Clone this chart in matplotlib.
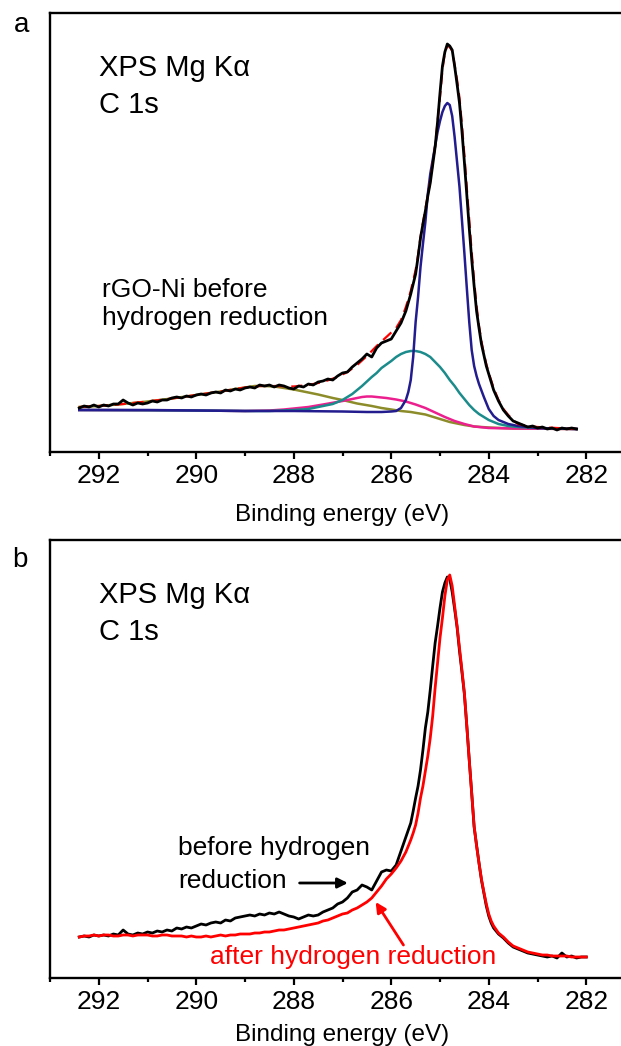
import matplotlib
matplotlib.use('Agg')
import matplotlib.pyplot as plt

plt.rcParams['font.family'] = ['Liberation Sans', 'DejaVu Sans']

# ---------------- data (binding energy in eV, intensity in arb. units) ----------------

# panel a: measured C 1s spectrum, rGO-Ni before hydrogen reduction
energy_a = [292.4, 292.3, 292.2, 292.1, 292.0, 291.9, 291.8, 291.7, 291.6, 291.5,
            291.4, 291.3, 291.2, 291.1, 291.0, 290.9, 290.8, 290.7, 290.6, 290.5,
            290.4, 290.3, 290.2, 290.1, 290.0, 289.9, 289.8, 289.7, 289.6, 289.5,
            289.4, 289.3, 289.2, 289.1, 289.0, 288.9, 288.8, 288.7, 288.6, 288.5,
            288.4, 288.3, 288.2, 288.1, 288.0, 287.9, 287.8, 287.7, 287.6, 287.5,
            287.4, 287.3, 287.2, 287.1, 287.0, 286.9, 286.8, 286.7, 286.6, 286.5,
            286.4, 286.3, 286.2, 286.1, 286.0, 285.9, 285.8, 285.7, 285.6, 285.55,
            285.5, 285.45, 285.4, 285.35, 285.3, 285.25, 285.2, 285.15, 285.1, 285.05,
            285.0, 284.95, 284.9, 284.85, 284.8, 284.75, 284.7, 284.65, 284.6, 284.55,
            284.5, 284.45, 284.4, 284.35, 284.3, 284.25, 284.2, 284.15, 284.1, 284.05,
            284.0, 283.95, 283.9, 283.8, 283.7, 283.6, 283.5, 283.4, 283.3, 283.2,
            283.1, 283.0, 282.9, 282.8, 282.7, 282.6, 282.5, 282.4, 282.3, 282.2]
counts_a = [44, 46, 45, 47, 45, 47, 46, 48, 48, 52,
            49, 47, 49, 48, 49, 51, 50, 52, 52, 54,
            55, 54, 56, 55, 57, 58, 57, 59, 60, 59,
            62, 61, 63, 62, 64, 65, 64, 67, 66, 67,
            65, 67, 66, 64, 63, 66, 65, 68, 67, 70,
            71, 73, 72, 76, 79, 80, 85, 89, 93, 98,
            95, 104, 109, 111, 113, 121, 129, 141, 158, 168,
            178, 195, 214, 228, 241, 256, 269, 287, 305, 330,
            359, 386, 400, 408, 406, 402, 386, 368, 349, 321,
            290, 257, 224, 193, 166, 141, 124, 108, 97, 86,
            78, 70, 62, 51, 42, 36, 31, 29, 27, 25,
            26, 24, 25, 23, 24, 22, 24, 23, 24, 23]

# panel a: fit envelope
env_energy = [292.4, 292.0, 291.5, 291.0, 290.5, 290.0, 289.5, 289.0, 288.7, 288.4,
              288.0, 287.7, 287.4, 287.1, 286.9, 286.7, 286.5, 286.3, 286.1, 285.9,
              285.8, 285.7, 285.6, 285.5, 285.45, 285.4, 285.3, 285.2, 285.1, 285.0,
              284.95, 284.9, 284.85, 284.8, 284.75, 284.7, 284.65, 284.6, 284.55, 284.5,
              284.45, 284.4, 284.35, 284.3, 284.25, 284.2, 284.15, 284.1, 284.05, 284.0,
              283.9, 283.8, 283.7, 283.6, 283.5, 283.4, 283.2, 283.0, 282.6, 282.2]
env_counts = [45, 46, 48, 50.5, 53.5, 57, 60.5, 64.5, 66, 66,
              65.5, 67, 70, 75, 80, 87, 96, 106, 115, 124,
              132, 145, 161, 182, 197, 215, 243, 271, 306, 355,
              382, 400, 406, 405, 401, 387, 372, 354, 327, 297,
              264, 232, 200, 171, 146, 126, 111, 98, 88, 79,
              64, 52, 43, 37, 32, 28, 26, 25, 24, 23]

# panel a: sp2 component (asymmetric main peak)
c1_energy = [292.4, 291.0, 290.0, 289.0, 288.0, 287.0, 286.5, 286.2, 286.0, 285.9,
             285.8, 285.7, 285.65, 285.6, 285.55, 285.5, 285.45, 285.4, 285.35, 285.3,
             285.25, 285.2, 285.15, 285.1, 285.05, 285.0, 284.95, 284.9, 284.85, 284.8,
             284.75, 284.7, 284.65, 284.6, 284.55, 284.5, 284.45, 284.4, 284.35, 284.3,
             284.25, 284.2, 284.1, 284.0, 283.9, 283.8, 283.6, 283.4, 283.2, 283.0,
             282.6, 282.2]
c1_counts = [42, 42, 41.5, 41, 41, 40.5, 40, 40, 40.5, 41,
             44, 52, 60, 72, 95, 130, 155, 185, 208, 230,
             258, 278, 292, 306, 320, 331, 340, 346, 349, 347,
             336, 315, 290, 265, 232, 199, 164, 130, 102, 86,
             76, 68, 55, 43, 36, 32, 28, 26, 25, 24,
             23.5, 23]

# panel a: C-O component
c2_energy = [292.4, 290.0, 289.0, 288.5, 288.0, 287.7, 287.5, 287.2, 287.0, 286.8,
             286.6, 286.4, 286.3, 286.2, 286.0, 285.9, 285.8, 285.7, 285.6, 285.5,
             285.4, 285.3, 285.2, 285.1, 285.0, 284.9, 284.8, 284.7, 284.6, 284.5,
             284.4, 284.3, 284.2, 284.1, 284.0, 283.8, 283.6, 283.4, 283.0, 282.2]
c2_counts = [42, 41.5, 41, 41, 42, 43, 45, 48, 52, 58,
             66, 75, 79, 84, 91, 95, 98, 100, 101, 101,
             100, 98, 95, 90, 85, 79, 72, 66, 59, 53,
             47, 42, 38, 35, 32, 28, 26, 25, 24, 23]

# panel a: C=O component
c3_energy = [292.4, 290.0, 289.0, 288.5, 288.2, 288.0, 287.7, 287.4, 287.0, 286.8,
             286.6, 286.5, 286.4, 286.3, 286.1, 285.9, 285.7, 285.5, 285.3, 285.1,
             284.9, 284.7, 284.5, 284.3, 284.0, 283.5, 282.2]
c3_counts = [42, 41.5, 41, 41.5, 42.5, 43.5, 45, 47.5, 51, 53,
             55, 55.5, 55.5, 55, 54, 52.5, 50.5, 47.5, 44, 39.5,
             35, 31, 28, 25.5, 24, 23.5, 23]

# panel a: O-C=O component
c4_energy = [292.4, 292.0, 291.5, 291.0, 290.5, 290.0, 289.5, 289.2, 289.0, 288.8,
             288.6, 288.4, 288.2, 288.0, 287.8, 287.5, 287.2, 287.0, 286.7, 286.4,
             286.2, 286.0, 285.8, 285.6, 285.3, 285.0, 284.8, 284.5, 284.3, 284.0,
             283.5, 282.2]
c4_counts = [45, 46, 48, 50.5, 53.5, 57, 60.5, 63, 64.5, 66,
             66, 65.5, 64, 62.5, 60.5, 57.5, 54, 52, 48.5, 46,
             44, 42.5, 41, 40, 37.5, 33, 30, 27, 25.5, 24.5,
             23.5, 23]

# panel b: before and after hydrogen reduction
energy_b = [292.4, 292.3, 292.2, 292.1, 292.0, 291.9, 291.8, 291.7, 291.6, 291.5,
            291.4, 291.3, 291.2, 291.1, 291.0, 290.9, 290.8, 290.7, 290.6, 290.5,
            290.4, 290.3, 290.2, 290.1, 290.0, 289.9, 289.8, 289.7, 289.6, 289.5,
            289.4, 289.3, 289.2, 289.1, 289.0, 288.9, 288.8, 288.7, 288.6, 288.5,
            288.4, 288.3, 288.2, 288.1, 288.0, 287.9, 287.8, 287.7, 287.6, 287.5,
            287.4, 287.3, 287.2, 287.1, 287.0, 286.9, 286.8, 286.7, 286.6, 286.5,
            286.4, 286.3, 286.2, 286.1, 286.0, 285.9, 285.8, 285.7, 285.6, 285.55,
            285.5, 285.45, 285.4, 285.35, 285.3, 285.25, 285.2, 285.15, 285.1, 285.05,
            285.0, 284.95, 284.9, 284.85, 284.8, 284.75, 284.7, 284.65, 284.6, 284.55,
            284.5, 284.45, 284.4, 284.35, 284.3, 284.25, 284.2, 284.15, 284.1, 284.05,
            284.0, 283.95, 283.9, 283.8, 283.7, 283.6, 283.5, 283.4, 283.3, 283.2,
            283.1, 283.0, 282.9, 282.8, 282.7, 282.6, 282.5, 282.4, 282.3, 282.2,
            282.1, 282.0]
before_b = [41, 42, 41, 43, 42, 43, 42, 44, 43, 48,
            44, 43, 45, 44, 46, 45, 47, 46, 48, 47,
            50, 49, 51, 50, 52, 54, 53, 55, 56, 55,
            58, 57, 60, 61, 62, 63, 62, 64, 63, 65,
            64, 66, 64, 62, 61, 59, 61, 63, 62, 63,
            66, 68, 70, 74, 76, 80, 86, 88, 93, 91,
            88, 97, 106, 108, 107, 113, 127, 141, 155, 167,
            180, 192, 208, 228, 250, 266, 288, 312, 335, 352,
            370, 386, 395, 401, 399, 386, 369, 351, 327, 306,
            284, 252, 218, 185, 151, 133, 115, 98, 85, 72,
            62, 55, 50, 44, 40, 35, 31, 29, 27, 25,
            24, 23, 22, 21, 22, 20, 25, 21, 22, 20,
            21, 21]
after_b = [41, 42, 42, 43, 42, 43, 43, 42, 42, 43,
           43, 42, 43, 43, 43, 42, 42, 43, 43, 42,
           42, 42, 41, 42, 41, 41, 42, 41, 42, 43,
           42, 43, 43, 44, 44, 44, 45, 45, 46, 46,
           47, 48, 48, 49, 50, 51, 52, 53, 54, 55,
           57, 58, 60, 62, 64, 65, 68, 70, 73, 76,
           80, 86, 92, 99, 104, 110, 117, 126, 138, 145,
           153, 165, 180, 192, 207, 222, 240, 262, 290, 315,
           340, 360, 382, 398, 403, 392, 372, 352, 330, 308,
           285, 252, 218, 185, 152, 132, 115, 99, 86, 74,
           64, 57, 52, 45, 41, 36, 32, 30, 28, 26,
           25, 24, 23, 23, 22, 22, 22, 22, 21, 21,
           21, 21]

energy_ticks = [292, 290, 288, 286, 284, 282]
energy_minor = [293, 291, 289, 287, 285, 283, 281]
tick_labels = ['292', '290', '288', '286', '284', '282']

# ---------------- figure ----------------

W, H = 621, 1046
fig = plt.figure(figsize=(W / 100, H / 100), dpi=100)


def fx(x):
    return x / W


def fy(y):
    return 1 - y / H


ax_a = fig.add_axes([fx(50), fy(452), 585 / W, 439 / H])
ax_b = fig.add_axes([fx(50), fy(978), 585 / W, 438 / H])

# panel a curves
ax_a.plot(c4_energy, c4_counts, color='#8c8c2a', lw=1.8)
ax_a.plot(c3_energy, c3_counts, color='#ec1f8f', lw=1.8)
ax_a.plot(c2_energy, c2_counts, color='#1b8b8b', lw=1.8)
ax_a.plot(c1_energy, c1_counts, color='#221c8e', lw=1.8)
ax_a.plot(env_energy, env_counts, color='#ff0000', lw=1.6, dashes=(5, 3))
ax_a.plot(energy_a, counts_a, color='black', lw=2.0)
ax_a.set_ylim(0, 439)

# panel b curves
ax_b.plot(energy_b, before_b, color='black', lw=2.0)
ax_b.plot(energy_b, after_b, color='#ff0000', lw=2.0)
ax_b.set_ylim(0, 438)

for ax, pad in ((ax_a, -0.118), (ax_b, -0.105)):
    ax.set_xlim(293, 281.15)
    ax.set_yticks([])
    ax.spines['right'].set_visible(False)
    for s in ('left', 'top', 'bottom'):
        ax.spines[s].set_linewidth(1.7)
    ax.set_xticks(energy_ticks)
    ax.set_xticklabels(tick_labels)
    ax.set_xticks(energy_minor, minor=True)
    ax.tick_params(axis='x', which='major', direction='out', length=5,
                   width=1.6, labelsize=19, pad=3.5)
    ax.tick_params(axis='x', which='minor', direction='out', length=3, width=1.6)
    ax.set_xlabel('Binding energy (eV)', fontsize=17.5)
    ax.xaxis.set_label_coords(0.5, pad)

# texts panel a
fig.text(fx(22), fy(32), 'a', fontsize=20, ha='center', va='baseline')
fig.text(fx(99), fy(76), 'XPS Mg K\u03b1', fontsize=21, va='baseline')
fig.text(fx(99), fy(113), 'C 1s', fontsize=21, va='baseline')
fig.text(fx(102), fy(297), 'rGO-Ni before', fontsize=19, va='baseline')
fig.text(fx(102), fy(325), 'hydrogen reduction', fontsize=19, va='baseline')

# texts panel b
fig.text(fx(20), fy(567), 'b', fontsize=20, ha='center', va='baseline')
fig.text(fx(99), fy(603), 'XPS Mg K\u03b1', fontsize=21, va='baseline')
fig.text(fx(99), fy(640), 'C 1s', fontsize=21, va='baseline')
fig.text(fx(178), fy(855), 'before hydrogen', fontsize=19, va='baseline')
fig.text(fx(178), fy(888), 'reduction', fontsize=19, va='baseline')
fig.text(fx(210), fy(964), 'after hydrogen reduction', fontsize=19,
         va='baseline', color='#ff0000')

ax_b.annotate('', xy=(286.89, 95), xytext=(287.88, 95),
              arrowprops=dict(arrowstyle='-|>', color='black', lw=2.0,
                              mutation_scale=15, shrinkA=0, shrinkB=0))
ax_b.annotate('', xy=(286.32, 76), xytext=(285.75, 33),
              arrowprops=dict(arrowstyle='-|>', color='#ff0000', lw=2.0,
                              mutation_scale=15, shrinkA=0, shrinkB=0))

fig.savefig('out.png', dpi=100)
